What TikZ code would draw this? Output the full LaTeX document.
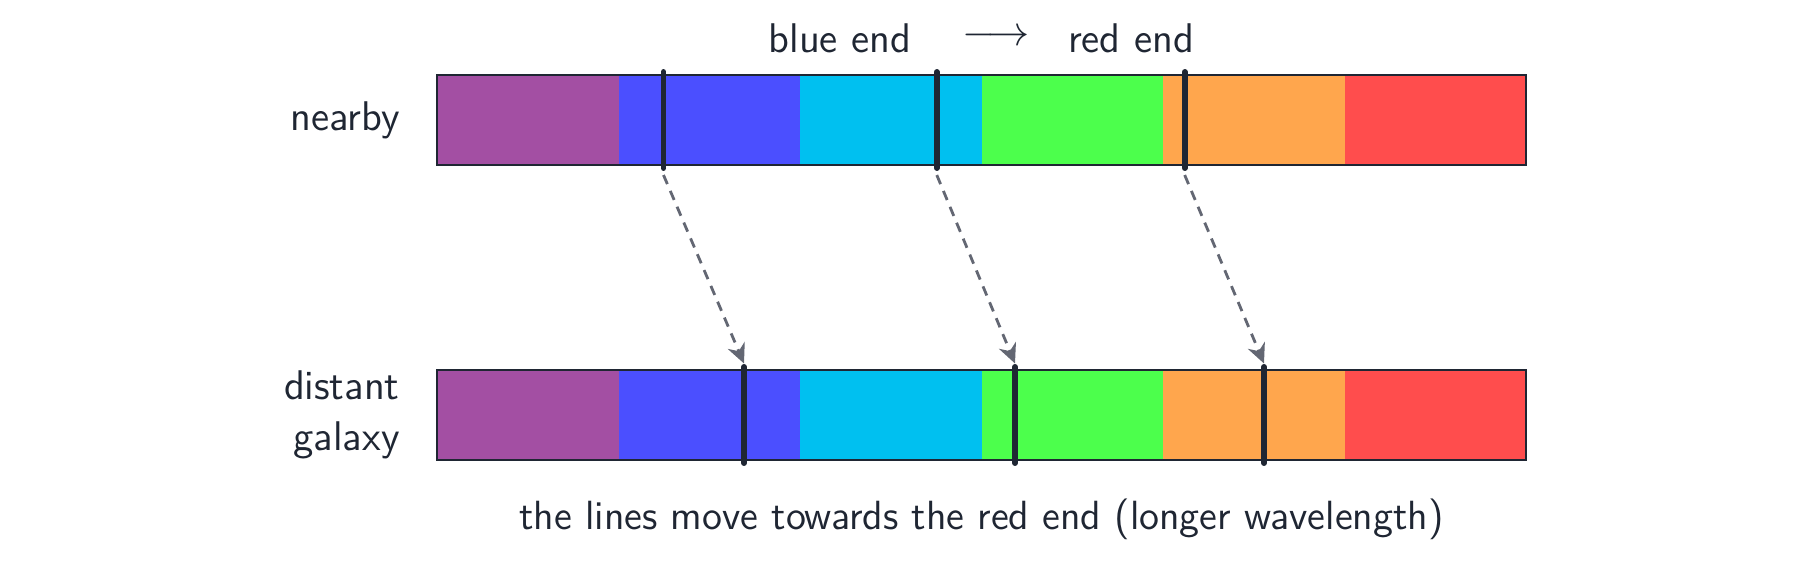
\documentclass[tikz,border=0pt]{standalone}
\usepackage{tikz}
\usetikzlibrary{arrows.meta}

\definecolor{cviolet}{HTML}{A34FA3}
\definecolor{cblue}{HTML}{4B4FFF}
\definecolor{ccyan}{HTML}{00C0F0}
\definecolor{cgreen}{HTML}{4CFF4C}
\definecolor{corange}{HTML}{FFA64D}
\definecolor{cred}{HTML}{FF4D4D}
\definecolor{inkclr}{HTML}{1F2633}
\definecolor{arrowclr}{HTML}{636773}

\begin{document}
\begin{tikzpicture}[band/.style={minimum width=1.815cm, minimum height=0.9cm,
      inner sep=0pt, outer sep=0pt, anchor=south west},
    lbl/.style={font=\sffamily\fontsize{11.8}{14.5}\selectfont, text=inkclr}]
    \useasboundingbox (0,0) rectangle (18,5.65);

    % colour bands, nearby (n) and distant (d)
    \begin{scope}[every node/.style={band}]
      \foreach \c [count=\i] in {cviolet,cblue,ccyan,cgreen,corange,cred}
      { \node [fill=\c] (n\i) at ({4.37+1.815*(\i-1)}, 4.0) {};
        \node [fill=\c] (d\i) at ({4.37+1.815*(\i-1)}, 1.05) {}; }
    \end{scope}
    \draw [inkclr, line width=0.7pt] (n1.north west) rectangle (n6.south east);
    \draw [inkclr, line width=0.7pt] (d1.north west) rectangle (d6.south east);

    % absorption lines
    \coordinate (nt1) at (6.635, 4.93); \coordinate (nb1) at (6.635, 3.97);
    \coordinate (nt2) at (9.368, 4.93); \coordinate (nb2) at (9.368, 3.97);
    \coordinate (nt3) at (11.847, 4.93); \coordinate (nb3) at (11.847, 3.97);
    \coordinate (dt1) at (7.44, 1.98); \coordinate (db1) at (7.44, 1.02);
    \coordinate (dt2) at (10.15, 1.98); \coordinate (db2) at (10.15, 1.02);
    \coordinate (dt3) at (12.64, 1.98); \coordinate (db3) at (12.64, 1.02);
    \begin{scope}[inkclr, line width=1.7pt, line cap=round]
      \foreach \i in {1,2,3} { \draw (nt\i) -- (nb\i); \draw (dt\i) -- (db\i); }
    \end{scope}

    % shift arrows
    \begin{scope}[-{Stealth[length=5.6pt, width=5.2pt, inset=1.8pt]}, arrowclr,
      line width=0.8pt, dash pattern=on 2.8pt off 2.1pt]
      \foreach \i in {1,2,3} { \draw ([yshift=-2pt]nb\i) -- ([yshift=1pt]dt\i); }
    \end{scope}

    % labels
    \node [lbl, anchor=east] (nearby) at (4.12, 4.45) {nearby};
    \node [lbl, anchor=east, align=right] (distant) at (4.12, 1.50)
    {distant\\galaxy};
    \node [lbl] (blue) at (8.40, 5.27) {blue end};
    \node [lbl] (arr) at (9.96, 5.27) {$\longrightarrow$};
    \node [lbl] (red) at (11.31, 5.27) {red end};
    \node [lbl, font=\sffamily\fontsize{11.6}{14}\selectfont] (note)
    at (9.815, 0.46)
    {the lines move towards the red end (longer wavelength)};
  \end{tikzpicture}
\end{document}
